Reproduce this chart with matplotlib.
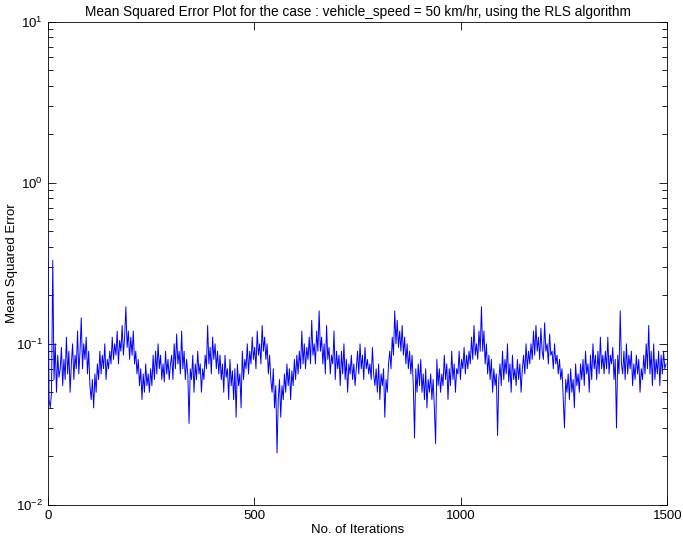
import numpy as np
import matplotlib
matplotlib.use('Agg')
import matplotlib.pyplot as plt

STEP = 3

# Mean squared error, one value every STEP iterations
# (each row covers 30 iterations).
mse = [
    0.50, 0.045, 0.04, 0.05, 0.33, 0.06, 0.1, 0.05, 0.085, 0.062,
    0.07, 0.095, 0.055, 0.08, 0.06, 0.11, 0.065, 0.09, 0.05, 0.075,
    0.1, 0.06, 0.085, 0.07, 0.12, 0.065, 0.09, 0.145, 0.07, 0.1,
    0.08, 0.11, 0.065, 0.09, 0.055, 0.045, 0.06, 0.04, 0.065, 0.05,
    0.075, 0.06, 0.09, 0.065, 0.085, 0.07, 0.1, 0.06, 0.08, 0.07,
    0.09, 0.075, 0.11, 0.08, 0.1, 0.085, 0.12, 0.075, 0.105, 0.09,
    0.13, 0.085, 0.11, 0.17, 0.095, 0.12, 0.08, 0.11, 0.085, 0.12,
    0.075, 0.09, 0.065, 0.08, 0.055, 0.07, 0.045, 0.065, 0.05, 0.075,
    0.055, 0.065, 0.05, 0.07, 0.055, 0.085, 0.06, 0.09, 0.065, 0.1,
    0.07, 0.085, 0.06, 0.075, 0.058, 0.09, 0.065, 0.08, 0.06, 0.075,
    0.085, 0.06, 0.1, 0.07, 0.115, 0.075, 0.09, 0.065, 0.12, 0.07,
    0.09, 0.06, 0.08, 0.065, 0.032, 0.07, 0.06, 0.085, 0.05, 0.075,
    0.06, 0.09, 0.065, 0.075, 0.05, 0.07, 0.06, 0.085, 0.07, 0.13,
    0.075, 0.095, 0.065, 0.11, 0.08, 0.1, 0.07, 0.09, 0.065, 0.085,
    0.06, 0.075, 0.05, 0.085, 0.062, 0.07, 0.045, 0.08, 0.055, 0.068,
    0.045, 0.07, 0.035, 0.075, 0.055, 0.065, 0.04, 0.09, 0.06, 0.08,
    0.07, 0.1, 0.065, 0.09, 0.075, 0.11, 0.08, 0.095, 0.07, 0.12,
    0.085, 0.1, 0.075, 0.13, 0.09, 0.11, 0.08, 0.1, 0.065, 0.085,
    0.06, 0.05, 0.07, 0.04, 0.055, 0.021, 0.045, 0.06, 0.035, 0.055,
    0.045, 0.065, 0.05, 0.075, 0.055, 0.07, 0.045, 0.068, 0.055, 0.08,
    0.06, 0.085, 0.065, 0.09, 0.07, 0.12, 0.075, 0.1, 0.07, 0.095,
    0.08, 0.11, 0.075, 0.14, 0.085, 0.1, 0.075, 0.12, 0.09, 0.16,
    0.09, 0.11, 0.075, 0.1, 0.065, 0.13, 0.08, 0.095, 0.065, 0.085,
    0.075, 0.12, 0.06, 0.09, 0.07, 0.085, 0.055, 0.09, 0.065, 0.1,
    0.06, 0.08, 0.05, 0.075, 0.065, 0.085, 0.06, 0.075, 0.055, 0.07,
    0.09, 0.065, 0.1, 0.07, 0.085, 0.06, 0.095, 0.07, 0.08, 0.065,
    0.075, 0.06, 0.095, 0.065, 0.055, 0.07, 0.05, 0.075, 0.045, 0.065,
    0.055, 0.07, 0.035, 0.06, 0.05, 0.075, 0.09, 0.07, 0.11, 0.085,
    0.16, 0.1, 0.14, 0.095, 0.12, 0.09, 0.13, 0.085, 0.11, 0.075,
    0.1, 0.07, 0.09, 0.065, 0.085, 0.055, 0.026, 0.07, 0.05, 0.075,
    0.055, 0.08, 0.05, 0.065, 0.045, 0.07, 0.04, 0.06, 0.05, 0.065,
    0.045, 0.06, 0.04, 0.024, 0.08, 0.055, 0.07, 0.05, 0.065, 0.055,
    0.085, 0.06, 0.075, 0.045, 0.07, 0.055, 0.09, 0.06, 0.075, 0.05,
    0.07, 0.065, 0.09, 0.06, 0.08, 0.07, 0.095, 0.065, 0.085, 0.07,
    0.09, 0.075, 0.11, 0.08, 0.13, 0.085, 0.1, 0.08, 0.12, 0.09,
    0.17, 0.09, 0.12, 0.075, 0.1, 0.065, 0.085, 0.06, 0.08, 0.05,
    0.07, 0.055, 0.065, 0.027, 0.06, 0.075, 0.055, 0.09, 0.06, 0.08,
    0.065, 0.1, 0.058, 0.075, 0.05, 0.085, 0.06, 0.07, 0.055, 0.08,
    0.06, 0.075, 0.05, 0.07, 0.085, 0.065, 0.1, 0.07, 0.09, 0.075,
    0.1, 0.08, 0.12, 0.085, 0.13, 0.09, 0.11, 0.08, 0.125, 0.09,
    0.08, 0.135, 0.09, 0.1, 0.075, 0.115, 0.085, 0.09, 0.07, 0.1,
    0.075, 0.085, 0.065, 0.08, 0.06, 0.07, 0.045, 0.03, 0.06, 0.05,
    0.065, 0.045, 0.07, 0.05, 0.06, 0.04, 0.075, 0.055, 0.065, 0.05,
    0.075, 0.06, 0.08, 0.055, 0.09, 0.065, 0.075, 0.05, 0.085, 0.06,
    0.1, 0.07, 0.085, 0.06, 0.09, 0.065, 0.11, 0.07, 0.085, 0.065,
    0.09, 0.07, 0.11, 0.065, 0.085, 0.075, 0.095, 0.06, 0.08, 0.03,
    0.085, 0.065, 0.16, 0.075, 0.065, 0.09, 0.06, 0.1, 0.065, 0.085,
    0.07, 0.09, 0.055, 0.075, 0.06, 0.085, 0.065, 0.08, 0.05, 0.07,
    0.06, 0.085, 0.065, 0.1, 0.07, 0.13, 0.065, 0.09, 0.055, 0.1,
    0.06, 0.08, 0.065, 0.09, 0.055, 0.085, 0.065, 0.09, 0.07, 0.075,
]
iterations = np.arange(len(mse)) * STEP

x_ticks = [0, 500, 1000, 1500]

plt.rcParams['font.family'] = ['Liberation Sans', 'DejaVu Sans']
plt.rcParams['font.size'] = 9.5

fig = plt.figure(figsize=(6.83, 5.44), dpi=100)
ax = fig.add_axes([0.070, 0.072, 0.907, 0.888])

# drawn above the spines so the first spike on the y axis stays visible
ax.semilogy(iterations, mse, color=(0, 0, 1), lw=0.7, zorder=3)

ax.set_xlim(0, 1500)
ax.set_ylim(1e-2, 1e1)
ax.set_xticks(x_ticks)
ax.tick_params(which='both', direction='in', top=True, right=True)
ax.tick_params(which='major', length=6, width=0.6)
ax.tick_params(which='minor', length=3.5, width=0.6)
for s in ax.spines.values():
    s.set_linewidth(0.6)

ax.set_title('Mean Squared Error Plot for the case : vehicle_speed = 50 km/hr, using the RLS algorithm',
             fontsize=9.8, pad=4)
ax.set_xlabel('No. of Iterations', labelpad=2)
ax.set_ylabel('Mean Squared Error')
ax.yaxis.set_label_coords(-0.048, 0.5)

fig.savefig('out.png', dpi=100)
